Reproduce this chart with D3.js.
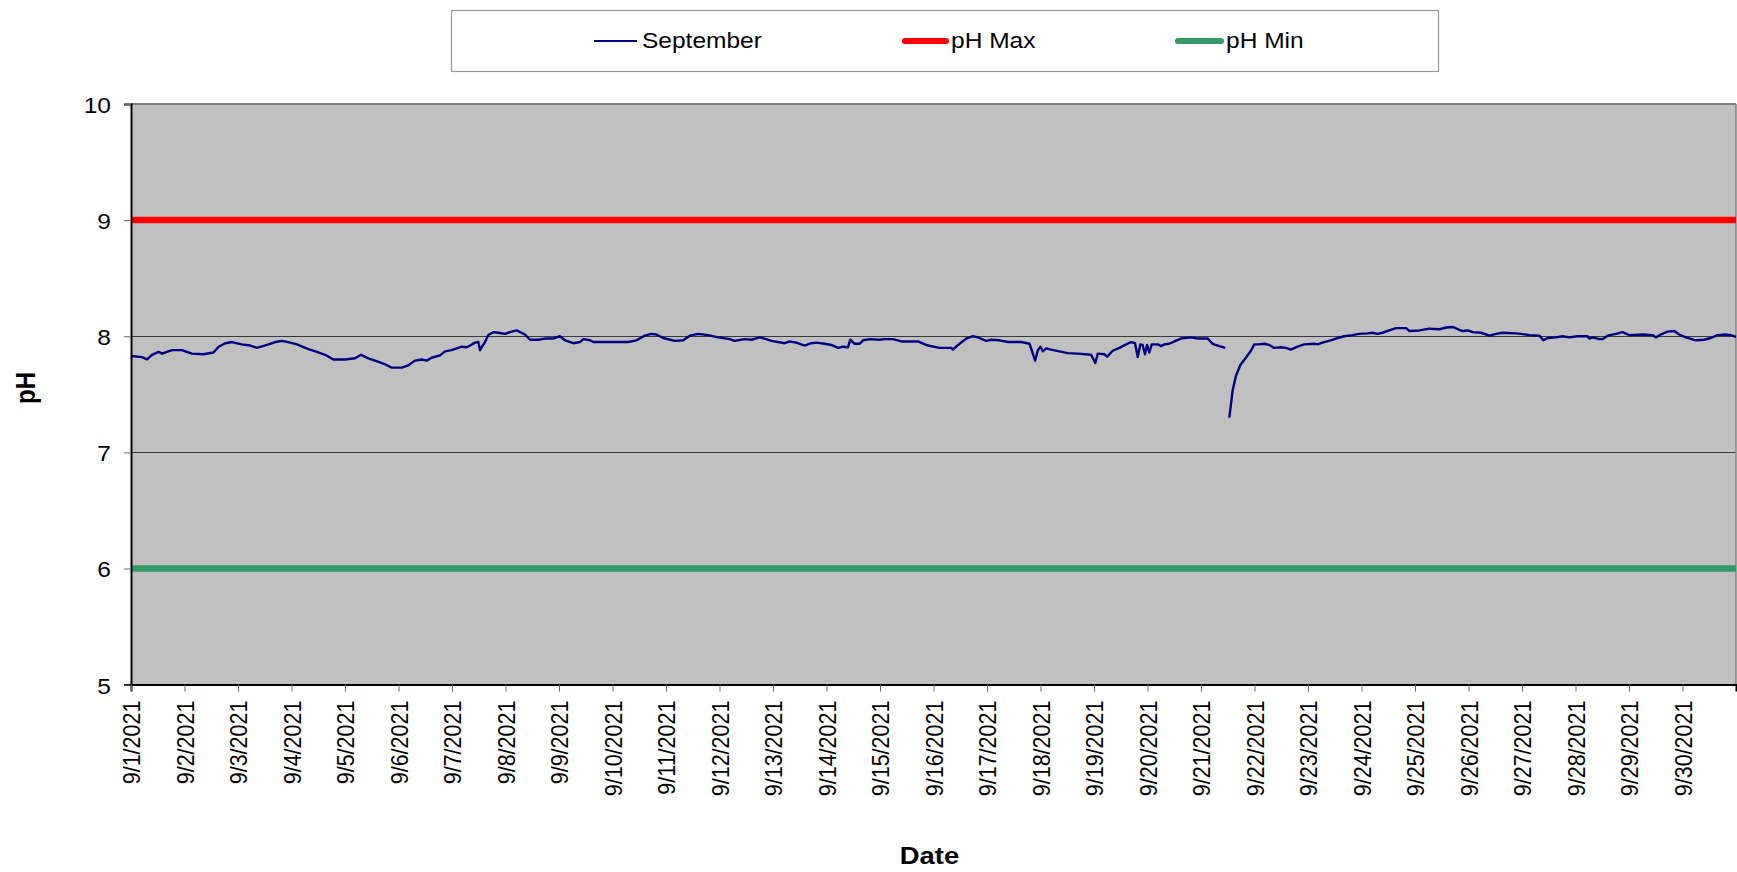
<!DOCTYPE html>
<html lang="en">
<head>
<meta charset="UTF-8">
<title>pH - September</title>
<script src="https://d3js.org/d3.v7.min.js"></script>
<style>
  body { margin: 0; background: #fff; }
  text { font-family: "Liberation Sans", Arial, sans-serif; fill: #000; }
</style>
</head>
<body>
<div id="chart"></div>
<script>
// hours since 9/1/2021 00:00 and the pH reading (null = no data)
var hours = [
  0, 4.9, 7.2, 9.4, 12.4, 13.9, 18.4, 22.8, 27.3, 32.5, 37, 39.3, 42.3, 45.2, 49.7, 53.5,
  56.5, 61.7, 64.7, 67.7, 71.4, 74.4, 79.6, 83.4, 87.1, 90.8, 96, 100.5, 103.2, 106.5, 109.5,
  113.2, 117, 121.5, 124.4, 127.4, 130.4, 132.6, 134.9, 138.6, 140.9, 143.8, 146.8,
  148.3, 150.6, 152.1, 154.3, 155.8, 156.6, 157.3, 158.8, 160.3, 162.5, 164.8, 167.8, 170,
  173, 176.7, 179, 182.7, 185.7, 189.4, 192.4, 194.7, 198.4, 201.4, 202.9, 205.9, 207.4,
  211.1, 223, 226.8, 230.5, 233.5, 235.7, 238.7, 244, 247.7, 250.7, 254.4, 258.9, 263.4,
  268.6, 270.8, 275.3, 278.3, 282, 285, 287.3, 293.3,
  295.5, 298.5, 302.2, 305.2, 307.5, 311.2, 314.2, 317.2, 319.4, 321.6, 322.7, 324.6, 326.9,
  328.4, 331.4, 335.8, 338.1, 341.8, 345.6, 353, 357.5, 362.7, 368, 368.7, 371, 374.7, 377.7,
  379.9, 383.7, 385.9, 389.6, 393.4, 399.3, 403.1, 405.6, 406.8, 408, 409.1, 410.5, 412.8,
  416.5, 420.2, 424.7, 430.7, 432.6, 433.7, 436.7, 437.9, 440.4, 443.4,
  444.9, 448.6, 450.4, 451.6, 452.8, 453.8, 454.9, 455.8, 456.8, 457.9, 460.6, 462.1, 463.6,
  465.8, 468, 471, 475.5, 478.5, 483, 485.2, 488.2, 490.9, 491.8,
  492.7, 494.2, 495.7, 497.6, 500.1, 502.4, 503.9, 506.1, 508.4, 510.6, 512.8, 515.8, 518.1,
  520.3, 523.3, 526.3, 530.8, 532.3, 535.2, 538.2, 540.5, 544.2, 547.9, 550.9, 554.7, 556.9,
  559.1, 561.4, 564.4,
  567.5, 572, 573.5, 578, 582.5, 587, 590, 592.9, 595.9, 597.4, 599.7, 601.9, 605.6, 609.4,
  612.4, 615.3, 621.3, 623.6, 627.3, 631.8, 633.6, 635.5, 639.2, 642.2, 645.2, 649, 653.4,
  654.2, 655.7, 658.7, 660.2, 662.4, 666.1, 669.1, 672.1, 678.1, 682.6, 684.1, 686.3, 689.3,
  692.3, 694.5, 697.5, 702, 705.7, 708.7, 711.7, 715.4, 717.7, 720
];
var phValues = [
  7.83, 7.82, 7.80, 7.84, 7.865, 7.85, 7.88, 7.88, 7.85, 7.845, 7.86, 7.91, 7.94, 7.95, 7.93, 7.92,
  7.90, 7.93, 7.95, 7.96, 7.945, 7.93, 7.89, 7.865, 7.84, 7.80, 7.80, 7.81, 7.84, 7.81, 7.79,
  7.765, 7.73, 7.73, 7.75, 7.79, 7.80, 7.79, 7.815, 7.835, 7.87, 7.88, 7.90,
  7.91, 7.905, 7.92, 7.945, 7.95, 7.88, 7.905, 7.95, 8.01, 8.035, 8.03, 8.02, 8.035,
  8.05, 8.015, 7.97, 7.97, 7.98, 7.98, 8.00, 7.965, 7.94, 7.95, 7.975, 7.965, 7.95,
  7.95, 7.95, 7.965, 8.005, 8.02, 8.015, 7.985, 7.96, 7.965, 8.005, 8.02, 8.01, 7.99,
  7.975, 7.96, 7.975, 7.97, 7.99, 7.975, 7.96, 7.94,
  7.955, 7.945, 7.92, 7.94, 7.945, 7.935, 7.925, 7.90, 7.91, 7.905, 7.97, 7.935, 7.935,
  7.965, 7.975, 7.97, 7.975, 7.975, 7.955, 7.955, 7.92, 7.90, 7.90, 7.885, 7.925, 7.98, 8.00,
  7.99, 7.96, 7.97, 7.965, 7.95, 7.95, 7.935, 7.79, 7.88, 7.91, 7.87, 7.895, 7.885,
  7.87, 7.855, 7.85, 7.84, 7.77, 7.85, 7.845, 7.825, 7.875, 7.90,
  7.915, 7.95, 7.94, 7.82, 7.93, 7.925, 7.845, 7.925, 7.86, 7.93, 7.93, 7.915, 7.93,
  7.935, 7.955, 7.98, 7.99, 7.98, 7.98, 7.935, 7.915, 7.90, null,
  7.30, 7.535, 7.66, 7.75, 7.815, 7.875, 7.93, 7.93, 7.935, 7.925, 7.90, 7.905, 7.90,
  7.885, 7.91, 7.93, 7.935, 7.93, 7.95, 7.965, 7.98, 8.00, 8.01, 8.02, 8.025, 8.03,
  8.02, 8.03, 8.05,
  8.07, 8.07, 8.045, 8.05, 8.065, 8.06, 8.075, 8.08, 8.055, 8.045, 8.05, 8.035, 8.03, 8.005,
  8.02, 8.03, 8.025, 8.02, 8.01, 8.005, 7.965, 7.985, 7.99, 8.00, 7.99, 8.00, 8.00,
  7.98, 7.99, 7.975, 7.975, 8.005, 8.02, 8.035, 8.01, 8.015, 8.01, 7.99, 8.015, 8.04,
  8.045, 8.015, 7.99, 7.965, 7.97, 7.985, 8.01, 8.015, 8.01, 7.995
];
var seriesName = "September";
var limitNames = ["pH Max", "pH Min"];
var limitValues = [9, 6];
var limitColors = ["#ff0000", "#339966"];
var yTicks = [5, 6, 7, 8, 9, 10];
var startDate = new Date(2021, 8, 1);
var endDate = new Date(2021, 9, 1);

var width = 1737, height = 872;
var plotLeft = 131, plotRight = 1736, plotTop = 104, plotBottom = 684.6;
var sx = 1.14; // the original chart is stretched horizontally

var svg = d3.select("#chart").append("svg")
  .attr("width", width).attr("height", height);

var x = d3.scaleTime().domain([startDate, endDate]).range([plotLeft, plotRight]);
var y = d3.scaleLinear().domain([5, 10]).range([plotBottom, plotTop]);

// plot area
svg.append("rect")
  .attr("x", plotLeft).attr("y", plotTop)
  .attr("width", plotRight - plotLeft).attr("height", plotBottom - plotTop)
  .attr("fill", "#c0c0c0");

// gridlines
svg.append("g").selectAll("line")
  .data(yTicks.slice(1, -1))
  .enter().append("line")
  .attr("x1", plotLeft).attr("x2", plotRight)
  .attr("y1", function(d) { return Math.round(y(d)) + 0.5; })
  .attr("y2", function(d) { return Math.round(y(d)) + 0.5; })
  .attr("stroke", "#3a3a3a").attr("stroke-width", 1.2);

// top and right border
svg.append("line").attr("x1", plotLeft).attr("x2", plotRight).attr("y1", plotTop).attr("y2", plotTop)
  .attr("stroke", "#808080").attr("stroke-width", 2);
svg.append("line").attr("x1", plotRight).attr("x2", plotRight).attr("y1", plotTop).attr("y2", plotBottom)
  .attr("stroke", "#808080").attr("stroke-width", 1.5);

// limit lines
svg.append("g").selectAll("line")
  .data(limitValues)
  .enter().append("line")
  .attr("x1", plotLeft).attr("x2", plotRight)
  .attr("y1", function(d) { return y(d); })
  .attr("y2", function(d) { return y(d); })
  .attr("stroke", function(d, i) { return limitColors[i]; })
  .attr("stroke-width", 6.5);

// september series
var points = hours.map(function(h, i) {
  return { date: new Date(startDate.getTime() + h * 3600000), v: phValues[i] };
});
var line = d3.line()
  .defined(function(d) { return d.v !== null; })
  .x(function(d) { return x(d.date); })
  .y(function(d) { return y(d.v); });
svg.append("path")
  .datum(points)
  .attr("d", line)
  .attr("fill", "none")
  .attr("stroke", "#000080")
  .attr("stroke-width", 2.4)
  .attr("stroke-linejoin", "round");

// y axis
var yAxis = svg.append("g")
  .attr("transform", "translate(" + plotLeft + ",0)")
  .call(d3.axisLeft(y).tickValues(yTicks).tickSize(7).tickPadding(0).tickFormat(d3.format("d")));
yAxis.select(".domain").attr("stroke", "#000").attr("stroke-width", 2);
yAxis.selectAll(".tick line").attr("stroke", "#666");
yAxis.selectAll(".tick text")
  .attr("x", null).attr("dy", null)
  .attr("dominant-baseline", "central")
  .attr("transform", "translate(-20,1) scale(" + sx + ",1)")
  .style("font-size", "21.5px").style("font-family", "'Liberation Sans', Arial, sans-serif");

// x axis
var days = d3.timeDay.range(startDate, endDate);
var xAxis = svg.append("g")
  .attr("transform", "translate(0," + plotBottom + ")")
  .call(d3.axisBottom(x).tickValues(days).tickSize(7).tickFormat(d3.timeFormat("%-m/%-d/%Y")));
xAxis.select(".domain").attr("stroke", "#000").attr("stroke-width", 2);
xAxis.selectAll(".tick line").attr("stroke", "#666");
xAxis.selectAll(".tick text")
  .attr("y", null).attr("dy", null)
  .attr("text-anchor", "end")
  .attr("dominant-baseline", "central")
  .attr("transform", "translate(0,16) scale(" + sx + ",1) rotate(-90)")
  .style("font-size", "21.5px").style("font-family", "'Liberation Sans', Arial, sans-serif");

// axis titles
svg.append("text")
  .attr("transform", "translate(929.5,864) scale(" + sx + ",1)")
  .attr("text-anchor", "middle")
  .style("font-size", "24px").style("font-weight", "bold")
  .text("Date");
svg.append("text")
  .attr("transform", "translate(25,388) scale(" + sx + ",1) rotate(-90)")
  .attr("text-anchor", "middle")
  .attr("dominant-baseline", "central")
  .style("font-size", "24px").style("font-weight", "bold")
  .text("pH");

// legend
var legend = svg.append("g");
legend.append("rect")
  .attr("x", 451.5).attr("y", 10.5).attr("width", 987).attr("height", 61)
  .attr("fill", "#fff").attr("stroke", "#999").attr("stroke-width", 1.2);

var legendItems = [
  { name: seriesName, color: "#000080", w: 2.2, x1: 594, x2: 637 },
  { name: limitNames[0], color: limitColors[0], w: 6, x1: 905, x2: 946 },
  { name: limitNames[1], color: limitColors[1], w: 6, x1: 1178, x2: 1221 }
];
var items = legend.selectAll("g.item").data(legendItems).enter().append("g");
items.append("line")
  .attr("x1", function(d) { return d.x1; })
  .attr("x2", function(d) { return d.x2; })
  .attr("y1", 41).attr("y2", 41)
  .attr("stroke", function(d) { return d.color; })
  .attr("stroke-width", function(d) { return d.w; })
  .attr("stroke-linecap", function(d) { return d.w > 3 ? "round" : "butt"; });
items.append("text")
  .attr("transform", function(d) { return "translate(" + (d.x2 + 5) + ",41) scale(" + sx + ",1)"; })
  .attr("dominant-baseline", "central")
  .style("font-size", "21.5px")
  .text(function(d) { return d.name; });
</script>
</body>
</html>
